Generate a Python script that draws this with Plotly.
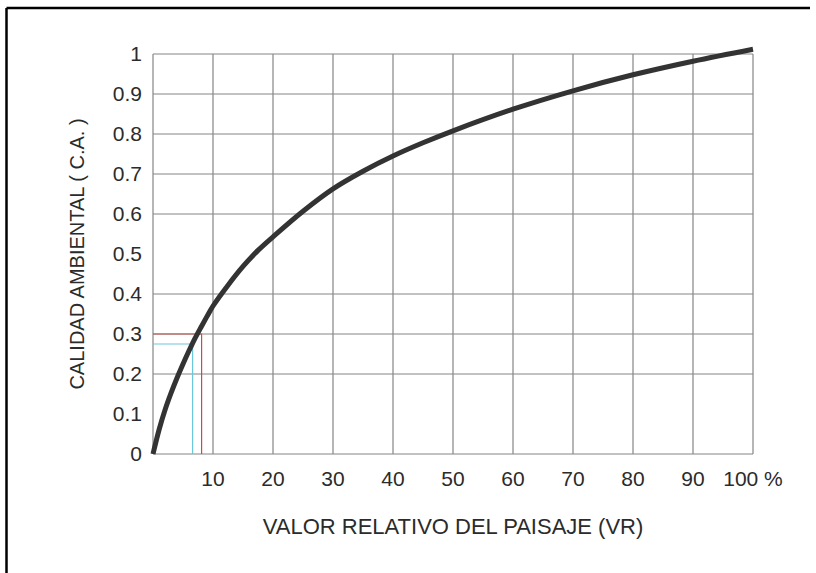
import plotly.graph_objects as go

# Curve: environmental quality (C.A.) vs relative landscape value (VR, %)
VR = [0, 1, 2, 3, 4, 5, 6, 7, 8, 9, 10, 12.5, 15, 17.5, 20, 25, 30, 35, 40,
      45, 50, 60, 70, 80, 90, 100]
CA = [0, 0.06, 0.11, 0.152, 0.19, 0.225, 0.258, 0.289, 0.317, 0.344, 0.37,
      0.422, 0.469, 0.509, 0.543, 0.607, 0.663, 0.707, 0.745, 0.778, 0.808,
      0.862, 0.908, 0.948, 0.982, 1.012]

# Reading guides
RED_VR, RED_CA = 8.1, 0.3
CYAN_VR, CYAN_CA = 6.6, 0.275

# Axis ticks
X_TICKS = [10, 20, 30, 40, 50, 60, 70, 80, 90, 100]
X_TEXT = ["10", "20", "30", "40", "50", "60", "70", "80", "90", "100 %"]
Y_TICKS = [0, 0.1, 0.2, 0.3, 0.4, 0.5, 0.6, 0.7, 0.8, 0.9, 1]
Y_TEXT = ["0", "0.1", "0.2", "0.3", "0.4", "0.5", "0.6", "0.7", "0.8", "0.9", "1"]

# Grid lines printed on the chart
GRID_X = [0, 10, 20, 30, 40, 50, 60, 70, 80, 90, 100]
GRID_Y = [0, 0.2, 0.3, 0.4, 0.6, 0.7, 0.8, 0.9, 1]

W, H = 816, 573
FONT = "Liberation Sans, Arial, sans-serif"
TXT = "#2b2b2b"
GRID = "#858585"

fig = go.Figure()

shapes = []
for gx in GRID_X:
    shapes.append(dict(type="line", xref="x", yref="y", x0=gx, x1=gx, y0=0, y1=1,
                       line=dict(color=GRID, width=1.2), layer="below"))
for gy in GRID_Y:
    shapes.append(dict(type="line", xref="x", yref="y", x0=0, x1=100, y0=gy, y1=gy,
                       line=dict(color=GRID, width=1.2), layer="below"))

# page border: left and top edges
bx = 6.5 / W
by = 1 - 8 / H
shapes.append(dict(type="line", xref="paper", yref="paper",
                   x0=bx, x1=bx, y0=0, y1=by,
                   line=dict(color="#000000", width=2.5)))
shapes.append(dict(type="line", xref="paper", yref="paper",
                   x0=bx, x1=810 / W, y0=by, y1=by,
                   line=dict(color="#000000", width=2.5)))

fig.add_trace(go.Scatter(x=[0, CYAN_VR, CYAN_VR], y=[CYAN_CA, CYAN_CA, 0],
                         mode="lines", line=dict(color="#6cc6dc", width=1.2),
                         hoverinfo="skip", showlegend=False))
fig.add_trace(go.Scatter(x=[0, RED_VR, RED_VR], y=[RED_CA, RED_CA, 0],
                         mode="lines", line=dict(color="#c0504d", width=1.2),
                         hoverinfo="skip", showlegend=False))
fig.add_trace(go.Scatter(x=VR, y=CA, mode="lines",
                         line=dict(color="#333333", width=5, shape="spline", smoothing=1.0),
                         showlegend=False))

fig.update_layout(
    width=W, height=H, autosize=False,
    margin=dict(l=0, r=0, t=0, b=0, pad=0),
    paper_bgcolor="white", plot_bgcolor="white",
    shapes=shapes,
    font=dict(family=FONT, color=TXT),
    xaxis=dict(domain=[147 / W, 759 / W], range=[-1, 101], automargin=False,
               showgrid=False, zeroline=False, showline=False,
               tickvals=X_TICKS, ticktext=X_TEXT, tickfont=dict(size=21, color=TXT),
               ticks="", ticklabelstandoff=2,
               title=dict(text="VALOR RELATIVO DEL PAISAJE (VR)", standoff=29,
                          font=dict(size=22, color=TXT))),
    yaxis=dict(domain=[111 / H, 527 / H], range=[-0.02, 1.02], automargin=False,
               showgrid=False, zeroline=False, showline=False,
               tickvals=Y_TICKS, ticktext=Y_TEXT, tickfont=dict(size=21, color=TXT),
               ticks="", ticklabelstandoff=4,
               title=dict(text="CALIDAD AMBIENTAL ( C.A. )", standoff=22,
                          font=dict(size=20, color=TXT))),
)

fig.write_html("out.html")
